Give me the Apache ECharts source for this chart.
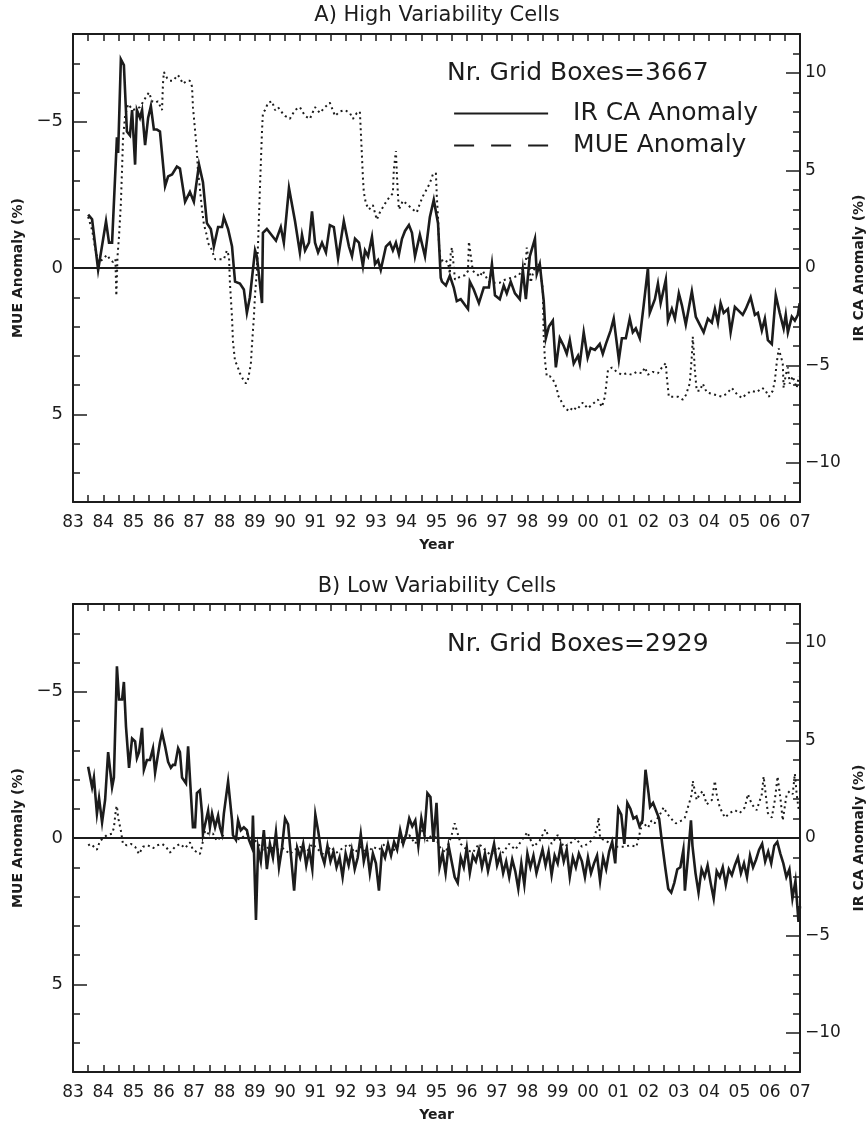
<!DOCTYPE html>
<html><head><meta charset="utf-8">
<script src="https://cdn.jsdelivr.net/npm/echarts@6/dist/echarts.min.js"></script>
<style>html,body{margin:0;padding:0;background:#fff}#c{width:867px;height:1121px}</style>
</head><body><div id="c"></div>
<script>
// x-axis: decimal year; labels shown as two-digit year
const yearTicks = [83,84,85,86,87,88,89,90,91,92,93,94,95,96,97,98,99,0,1,2,3,4,5,6,7];
const mueTicks = [-5, 0, 5];
const irTicks = [-10, -5, 0, 5, 10];

// Panel A: High variability cells — IR CA anomaly (%), right axis
const highIR = [[1983.50,2.74],[1983.63,2.5],[1983.83,-0.1],[1984.09,2.4],[1984.19,1.3],[1984.29,1.3],[1984.45,6.7],[1984.49,5.9],[1984.58,10.7],[1984.68,10.4],[1984.78,7.0],[1984.88,6.8],[1984.95,8.1],[1985.05,5.3],[1985.11,8.1],[1985.21,7.7],[1985.28,8.1],[1985.38,6.3],[1985.48,7.7],[1985.57,8.3],[1985.67,7.1],[1985.77,7.1],[1985.87,7.0],[1986.04,4.2],[1986.14,4.7],[1986.27,4.8],[1986.43,5.2],[1986.53,5.1],[1986.70,3.4],[1986.86,3.9],[1986.99,3.4],[1987.16,5.3],[1987.29,4.4],[1987.42,2.3],[1987.55,2.0],[1987.65,1.1],[1987.79,2.1],[1987.92,2.1],[1987.98,2.6],[1988.12,2.0],[1988.25,1.1],[1988.31,0.0],[1988.35,-0.7],[1988.51,-0.8],[1988.64,-1.1],[1988.74,-2.3],[1988.84,-1.5],[1989.01,0.9],[1989.07,0.6],[1989.24,-1.8],[1989.27,1.8],[1989.40,2.0],[1989.70,1.4],[1989.86,2.1],[1989.96,1.3],[1990.13,4.1],[1990.33,2.4],[1990.39,2.3],[1990.49,0.8],[1990.56,1.7],[1990.66,0.9],[1990.79,1.3],[1990.89,2.9],[1990.99,1.3],[1991.09,0.8],[1991.22,1.3],[1991.35,0.8],[1991.48,2.2],[1991.61,2.1],[1991.75,0.5],[1991.94,2.4],[1992.11,1.1],[1992.21,0.6],[1992.31,1.5],[1992.44,1.3],[1992.57,0.1],[1992.64,0.9],[1992.74,0.6],[1992.87,1.6],[1992.97,0.2],[1993.07,0.4],[1993.16,-0.1],[1993.33,1.1],[1993.46,1.3],[1993.56,0.9],[1993.66,1.3],[1993.76,0.7],[1993.86,1.5],[1993.96,1.9],[1994.09,2.2],[1994.19,1.8],[1994.29,0.6],[1994.45,1.7],[1994.62,0.6],[1994.78,2.6],[1994.91,3.5],[1995.05,2.3],[1995.14,-0.5],[1995.18,-0.7],[1995.31,-0.9],[1995.44,-0.4],[1995.57,-1.0],[1995.67,-1.7],[1995.80,-1.6],[1995.94,-1.9],[1996.04,-2.1],[1996.10,-0.7],[1996.23,-1.1],[1996.40,-1.8],[1996.56,-1.0],[1996.73,-1.0],[1996.83,0.2],[1996.93,-1.4],[1997.09,-1.6],[1997.22,-0.9],[1997.32,-1.3],[1997.45,-0.7],[1997.59,-1.3],[1997.75,-1.6],[1997.85,-0.1],[1997.95,-1.6],[1998.08,0.6],[1998.25,1.5],[1998.31,-0.3],[1998.41,0.2],[1998.54,-1.7],[1998.61,-3.6],[1998.71,-3.0],[1998.84,-2.7],[1998.94,-5.1],[1999.07,-3.6],[1999.20,-4.0],[1999.30,-4.4],[1999.40,-3.7],[1999.53,-4.9],[1999.67,-4.5],[1999.73,-4.9],[1999.86,-3.3],[1999.99,-4.6],[2000.09,-4.1],[2000.23,-4.2],[2000.39,-3.9],[2000.49,-4.4],[2000.59,-3.9],[2000.75,-3.2],[2000.85,-2.6],[2001.02,-4.7],[2001.12,-3.6],[2001.25,-3.6],[2001.38,-2.6],[2001.48,-3.3],[2001.58,-3.1],[2001.71,-3.6],[2001.84,-1.9],[2001.98,0.0],[2002.04,-2.3],[2002.21,-1.6],[2002.31,-0.8],[2002.40,-1.8],[2002.57,-0.6],[2002.64,-2.7],[2002.77,-2.1],[2002.87,-2.6],[2003.00,-1.3],[2003.10,-1.9],[2003.23,-2.9],[2003.43,-1.2],[2003.56,-2.5],[2003.69,-2.9],[2003.82,-3.3],[2003.96,-2.6],[2004.09,-2.8],[2004.19,-2.1],[2004.29,-2.8],[2004.38,-1.8],[2004.48,-2.3],[2004.62,-2.1],[2004.71,-3.3],[2004.85,-2.0],[2004.98,-2.2],[2005.11,-2.4],[2005.21,-2.1],[2005.37,-1.5],[2005.51,-2.4],[2005.61,-2.3],[2005.74,-3.2],[2005.84,-2.6],[2005.94,-3.7],[2006.07,-3.9],[2006.20,-1.4],[2006.33,-2.3],[2006.46,-3.1],[2006.53,-2.4],[2006.60,-3.3],[2006.73,-2.5],[2006.83,-2.7],[2006.93,-2.4],[2006.99,-1.8]];

// Panel A: MUE anomaly (%), left (inverted) axis
const highMUE = [[1983.50,-1.75],[1983.63,-1.3],[1983.73,-0.7],[1983.83,-0.2],[1983.99,-0.3],[1984.12,-0.45],[1984.22,-0.3],[1984.32,-0.2],[1984.40,-0.3],[1984.43,0.95],[1984.47,-0.4],[1984.52,-1.1],[1984.58,-2.2],[1984.62,-3.4],[1984.65,-4.4],[1984.72,-5.2],[1984.82,-5.6],[1984.98,-5.4],[1985.21,-5.5],[1985.44,-5.9],[1985.51,-6.0],[1985.61,-5.7],[1985.71,-5.65],[1985.80,-5.7],[1985.94,-5.4],[1985.97,-6.3],[1986.00,-6.7],[1986.10,-6.5],[1986.20,-6.4],[1986.30,-6.4],[1986.46,-6.6],[1986.53,-6.5],[1986.63,-6.3],[1986.76,-6.4],[1986.86,-6.4],[1986.93,-6.2],[1986.96,-5.5],[1987.03,-4.7],[1987.09,-4.0],[1987.12,-3.4],[1987.19,-2.7],[1987.26,-2.0],[1987.32,-1.5],[1987.42,-1.1],[1987.46,-0.85],[1987.55,-0.7],[1987.69,-0.3],[1987.85,-0.3],[1987.98,-0.3],[1988.08,-0.6],[1988.15,-0.4],[1988.18,0.5],[1988.25,1.7],[1988.28,2.5],[1988.35,3.2],[1988.41,3.3],[1988.51,3.6],[1988.61,3.8],[1988.71,3.95],[1988.78,3.8],[1988.87,3.3],[1988.91,2.6],[1988.97,1.7],[1989.01,0.9],[1989.07,0.1],[1989.11,-0.85],[1989.17,-2.7],[1989.24,-4.7],[1989.27,-5.3],[1989.34,-5.4],[1989.44,-5.65],[1989.57,-5.7],[1989.67,-5.4],[1989.77,-5.5],[1989.83,-5.4],[1990.00,-5.2],[1990.16,-5.1],[1990.33,-5.4],[1990.49,-5.5],[1990.66,-5.2],[1990.82,-5.1],[1990.99,-5.5],[1991.15,-5.3],[1991.32,-5.5],[1991.48,-5.65],[1991.65,-5.2],[1991.81,-5.35],[1991.98,-5.4],[1992.14,-5.3],[1992.24,-5.1],[1992.37,-5.3],[1992.47,-5.35],[1992.50,-4.7],[1992.54,-3.8],[1992.57,-3.1],[1992.60,-2.6],[1992.67,-2.2],[1992.77,-2.0],[1992.90,-2.15],[1993.03,-1.65],[1993.13,-1.9],[1993.30,-2.2],[1993.43,-2.4],[1993.56,-2.55],[1993.59,-3.35],[1993.66,-4.0],[1993.69,-3.25],[1993.73,-2.45],[1993.76,-2.0],[1993.89,-2.3],[1994.06,-2.15],[1994.22,-2.0],[1994.35,-1.9],[1994.45,-2.2],[1994.55,-2.45],[1994.68,-2.7],[1994.78,-2.9],[1994.88,-3.2],[1994.98,-3.25],[1995.01,-2.45],[1995.05,-1.75],[1995.08,-0.85],[1995.14,-0.15],[1995.21,-0.3],[1995.38,-0.2],[1995.44,0.2],[1995.47,-0.5],[1995.51,-0.7],[1995.61,0.4],[1995.77,0.3],[1995.94,0.25],[1996.04,0.1],[1996.07,-0.9],[1996.20,0.1],[1996.33,0.2],[1996.43,0.3],[1996.53,0.1],[1996.66,0.35],[1996.76,0.5],[1996.93,0.5],[1997.09,0.5],[1997.26,0.4],[1997.42,0.35],[1997.59,0.3],[1997.72,0.25],[1997.85,0.0],[1997.95,-0.2],[1997.98,-0.7],[1998.05,-0.2],[1998.11,0.5],[1998.18,0.2],[1998.31,-0.2],[1998.41,-0.05],[1998.51,0.75],[1998.54,2.35],[1998.58,3.15],[1998.64,3.7],[1998.74,3.7],[1998.84,3.8],[1998.97,4.1],[1999.01,4.35],[1999.14,4.6],[1999.24,4.8],[1999.40,4.9],[1999.50,4.75],[1999.63,4.85],[1999.83,4.6],[1999.99,4.8],[2000.16,4.65],[2000.33,4.5],[2000.46,4.75],[2000.56,4.4],[2000.62,3.85],[2000.66,3.5],[2000.79,3.4],[2000.95,3.55],[2001.12,3.65],[2001.28,3.6],[2001.45,3.65],[2001.61,3.55],[2001.78,3.6],[2001.88,3.4],[2001.98,3.65],[2002.14,3.55],[2002.31,3.6],[2002.44,3.4],[2002.57,3.25],[2002.60,3.7],[2002.67,4.4],[2002.80,4.4],[2002.97,4.4],[2003.13,4.5],[2003.23,4.35],[2003.36,3.95],[2003.43,3.0],[2003.46,2.35],[2003.49,2.8],[2003.53,3.5],[2003.59,4.2],[2003.69,4.2],[2003.79,3.95],[2003.92,4.25],[2004.09,4.3],[2004.25,4.35],[2004.42,4.4],[2004.58,4.3],[2004.75,4.1],[2004.91,4.3],[2005.08,4.45],[2005.24,4.3],[2005.41,4.2],[2005.57,4.25],[2005.74,4.1],[2005.84,4.15],[2005.97,4.4],[2006.10,4.2],[2006.17,3.85],[2006.23,3.25],[2006.30,2.75],[2006.36,3.0],[2006.43,3.25],[2006.46,4.1],[2006.53,3.65],[2006.60,3.4],[2006.66,3.95],[2006.76,3.7],[2006.89,4.1],[2006.96,3.7]];

// Panel B: Low variability cells — IR CA anomaly (%)
const lowIR = [[1983.50,3.65],[1983.63,2.6],[1983.69,3.1],[1983.79,1.25],[1983.86,2.05],[1983.96,0.8],[1984.06,1.95],[1984.16,4.4],[1984.29,2.6],[1984.35,3.1],[1984.45,8.8],[1984.52,7.1],[1984.62,7.1],[1984.68,8.0],[1984.75,5.7],[1984.85,3.6],[1984.95,5.1],[1985.05,4.95],[1985.11,4.1],[1985.18,4.4],[1985.28,5.65],[1985.34,3.5],[1985.44,4.0],[1985.54,4.0],[1985.64,4.6],[1985.71,3.35],[1985.77,3.25],[1985.87,4.9],[1985.94,5.4],[1986.04,4.7],[1986.14,3.9],[1986.23,3.6],[1986.30,3.75],[1986.37,3.75],[1986.47,4.6],[1986.53,4.4],[1986.60,3.1],[1986.66,3.1],[1986.73,2.8],[1986.80,4.7],[1986.89,2.3],[1986.96,0.55],[1987.03,0.55],[1987.09,2.3],[1987.19,2.45],[1987.26,1.25],[1987.29,0.2],[1987.39,0.9],[1987.46,1.4],[1987.52,0.55],[1987.59,1.25],[1987.69,0.55],[1987.79,1.15],[1987.85,0.55],[1987.92,0.2],[1987.98,1.25],[1988.12,2.9],[1988.25,0.9],[1988.28,0.15],[1988.38,-0.1],[1988.45,0.9],[1988.54,0.4],[1988.64,0.55],[1988.74,0.4],[1988.81,-0.1],[1988.91,-0.5],[1988.94,1.15],[1989.04,-4.2],[1989.11,-0.5],[1989.2,-1.2],[1989.3,0.4],[1989.4,-1.6],[1989.5,-0.3],[1989.6,-1.0],[1989.7,0.3],[1989.8,-1.5],[1989.9,-0.5],[1990.0,1.0],[1990.1,0.7],[1990.2,-1.0],[1990.3,-2.7],[1990.4,-0.5],[1990.5,-1.0],[1990.6,-0.3],[1990.7,-1.4],[1990.8,-0.6],[1990.9,-1.6],[1991.0,1.2],[1991.1,0.3],[1991.2,-0.8],[1991.3,-1.3],[1991.4,-0.4],[1991.5,-1.2],[1991.6,-0.7],[1991.7,-1.5],[1991.8,-1.0],[1991.9,-2.0],[1992.0,-0.8],[1992.1,-1.4],[1992.2,-0.6],[1992.3,-1.6],[1992.4,-1.0],[1992.5,0.2],[1992.6,-1.2],[1992.7,-0.5],[1992.8,-1.8],[1992.9,-0.8],[1993.0,-1.3],[1993.1,-2.7],[1993.2,-0.6],[1993.3,-1.0],[1993.4,-0.3],[1993.5,-0.9],[1993.6,-0.2],[1993.7,-0.6],[1993.8,0.4],[1993.9,-0.3],[1994.0,0.2],[1994.1,1.0],[1994.2,0.6],[1994.3,0.9],[1994.4,-0.4],[1994.5,1.0],[1994.6,0.2],[1994.7,2.3],[1994.8,2.1],[1994.9,-0.2],[1995.0,1.8],[1995.1,-1.5],[1995.2,-0.8],[1995.3,-1.8],[1995.4,-0.4],[1995.5,-1.2],[1995.6,-2.0],[1995.7,-2.3],[1995.8,-1.0],[1995.9,-1.5],[1996.0,-0.5],[1996.1,-1.8],[1996.2,-0.9],[1996.3,-1.2],[1996.4,-0.6],[1996.5,-1.5],[1996.6,-0.8],[1996.7,-1.7],[1996.8,-1.0],[1996.9,-0.3],[1997.0,-1.4],[1997.1,-0.9],[1997.2,-1.8],[1997.3,-1.2],[1997.4,-2.0],[1997.5,-1.1],[1997.6,-1.7],[1997.7,-2.6],[1997.8,-1.3],[1997.9,-2.4],[1998.0,-0.8],[1998.1,-1.5],[1998.2,-0.9],[1998.3,-1.8],[1998.4,-1.2],[1998.5,-0.6],[1998.6,-1.4],[1998.7,-0.7],[1998.8,-1.9],[1998.9,-0.9],[1999.0,-1.3],[1999.1,-0.4],[1999.2,-1.2],[1999.3,-0.6],[1999.4,-2.0],[1999.5,-1.0],[1999.6,-1.5],[1999.7,-0.8],[1999.8,-1.2],[1999.9,-2.0],[2000.0,-1.0],[2000.1,-1.8],[2000.2,-1.3],[2000.3,-0.9],[2000.4,-2.2],[2000.5,-1.0],[2000.6,-1.6],[2000.7,-0.7],[2000.8,-0.2],[2000.9,-1.3],[2001.0,1.5],[2001.1,1.2],[2001.2,-0.3],[2001.3,1.8],[2001.4,1.5],[2001.5,1.0],[2001.6,1.1],[2001.7,0.6],[2001.8,0.9],[2001.9,3.5],[2002.0,2.3],[2002.05,1.6],[2002.15,1.8],[2002.25,1.4],[2002.35,1.0],[2002.45,-0.3],[2002.55,-1.5],[2002.65,-2.6],[2002.75,-2.8],[2002.85,-2.3],[2002.95,-1.6],[2003.05,-1.5],[2003.15,-0.6],[2003.2,-2.7],[2003.3,-1.0],[2003.4,0.9],[2003.45,-0.4],[2003.55,-1.8],[2003.65,-2.8],[2003.75,-1.6],[2003.85,-2.0],[2003.95,-1.4],[2004.05,-2.3],[2004.15,-3.1],[2004.25,-1.7],[2004.35,-2.0],[2004.45,-1.5],[2004.55,-2.4],[2004.65,-1.6],[2004.75,-1.9],[2004.85,-1.4],[2004.95,-1.0],[2005.05,-1.8],[2005.15,-1.3],[2005.25,-2.0],[2005.35,-0.9],[2005.45,-1.5],[2005.55,-1.1],[2005.65,-0.6],[2005.75,-0.3],[2005.85,-1.2],[2005.95,-0.7],[2006.05,-1.3],[2006.15,-0.4],[2006.25,-0.2],[2006.35,-0.8],[2006.45,-1.3],[2006.55,-2.0],[2006.65,-1.6],[2006.75,-3.1],[2006.85,-2.2],[2006.95,-4.3],[2007.0,-3.5]];

// Panel B: MUE anomaly (%)
const lowMUE = [[1983.50,0.25],[1983.59,0.2],[1983.79,0.4],[1983.89,0.1],[1984.12,-0.1],[1984.29,-0.15],[1984.35,-0.35],[1984.42,-1.0],[1984.45,-1.1],[1984.49,-0.7],[1984.58,-0.25],[1984.65,0.2],[1984.78,0.25],[1984.91,0.2],[1985.05,0.3],[1985.18,0.55],[1985.31,0.3],[1985.47,0.25],[1985.64,0.35],[1985.77,0.25],[1985.94,0.2],[1986.07,0.3],[1986.20,0.5],[1986.37,0.3],[1986.53,0.2],[1986.70,0.35],[1986.86,0.15],[1986.96,0.4],[1987.19,0.55],[1987.26,0.25],[1987.36,-0.25],[1987.46,-0.15],[1987.62,-0.15],[1987.75,0.1],[1987.92,-0.1],[1988.08,0.0],[1988.28,0.0],[1988.51,0.05],[1988.74,-0.15],[1988.94,0.0],[1989.11,0.2],[1989.27,0.4],[1989.50,0.3],[1989.73,0.4],[1989.93,0.35],[1990.16,0.55],[1990.33,0.4],[1990.5,0.3],[1990.7,0.5],[1990.9,0.2],[1991.1,0.4],[1991.3,0.6],[1991.5,0.3],[1991.7,0.5],[1991.9,0.35],[1992.1,0.2],[1992.3,0.5],[1992.5,0.3],[1992.7,0.55],[1992.9,0.3],[1993.1,0.4],[1993.3,0.2],[1993.5,0.5],[1993.7,0.3],[1993.9,0.1],[1994.1,-0.1],[1994.3,0.2],[1994.5,-0.3],[1994.7,0.1],[1994.9,-0.2],[1995.1,0.3],[1995.3,0.5],[1995.5,-0.1],[1995.6,-0.5],[1995.8,0.2],[1996.0,0.4],[1996.2,0.5],[1996.4,0.2],[1996.6,0.4],[1996.8,0.6],[1997.0,0.3],[1997.2,0.5],[1997.4,0.2],[1997.6,0.4],[1997.8,0.1],[1998.0,-0.2],[1998.2,0.3],[1998.4,0.1],[1998.6,-0.3],[1998.8,0.2],[1999.0,-0.1],[1999.2,0.3],[1999.4,0.2],[1999.6,0.0],[1999.8,0.3],[2000.0,0.2],[2000.2,0.0],[2000.3,-0.35],[2000.35,-0.7],[2000.4,0.0],[2000.6,0.1],[2000.9,0.3],[2001.2,0.3],[2001.4,0.25],[2001.6,0.3],[2001.8,-0.55],[2001.98,-0.35],[2002.1,-0.6],[2002.2,-0.5],[2002.4,-0.85],[2002.5,-1.05],[2002.6,-0.85],[2002.8,-0.6],[2002.9,-0.5],[2003.1,-0.6],[2003.2,-0.7],[2003.3,-1.05],[2003.43,-1.5],[2003.46,-1.95],[2003.59,-1.3],[2003.69,-1.5],[2003.79,-1.6],[2003.92,-1.15],[2004.09,-1.3],[2004.19,-1.95],[2004.25,-1.5],[2004.35,-1.05],[2004.52,-0.7],[2004.68,-0.85],[2004.85,-0.95],[2005.01,-0.85],[2005.18,-1.05],[2005.28,-1.5],[2005.41,-1.15],[2005.57,-0.95],[2005.74,-1.5],[2005.80,-2.1],[2005.94,-0.85],[2006.07,-0.7],[2006.17,-1.3],[2006.26,-2.1],[2006.36,-1.3],[2006.43,-0.6],[2006.56,-1.5],[2006.66,-1.6],[2006.76,-1.5],[2006.83,-2.2],[2006.89,-1.5],[2006.96,-0.95]];

const INK = '#1c1c1c';
const FONT = 'DejaVu Sans';
const chart = echarts.init(document.getElementById('c'), null, {renderer: 'canvas'});

const grids = [
  {left: 73, top: 34, width: 727, height: 468, containLabel: false, outerBoundsMode: 'none'},
  {left: 73, top: 604, width: 727, height: 468, containLabel: false, outerBoundsMode: 'none'}
];

function yearLabel(v) {
  const y = Math.round(v) % 100;
  return (y < 10 ? '0' : '') + y;
}
function numLabel(v) {
  return String(v).replace('-', '\u2212');
}

const xAxes = [], yAxes = [];
grids.forEach((g, i) => {
  const tick = {show: true, inside: true, length: 7, lineStyle: {color: INK, width: 1.5}};
  xAxes.push({
    type: 'value', gridIndex: i, position: 'bottom', min: 1983, max: 2007, interval: 1,
    axisLine: {show: true, onZero: false, lineStyle: {color: INK, width: 2}},
    axisTick: tick,
    minorTick: {show: true, splitNumber: 2, length: 7, lineStyle: {color: INK, width: 1.5}},
    splitLine: {show: false},
    axisLabel: {formatter: yearLabel, fontSize: 17, color: INK, margin: 12, fontFamily: FONT},
    name: 'Year', nameLocation: 'middle', nameGap: 36,
    nameTextStyle: {fontSize: 14, color: INK, fontFamily: FONT, fontWeight: 'bold'}
  });
  xAxes.push({
    type: 'value', gridIndex: i, position: 'top', min: 1983, max: 2007, interval: 1,
    axisLine: {show: true, onZero: false, lineStyle: {color: INK, width: 2}},
    axisTick: tick,
    minorTick: {show: true, splitNumber: 2, length: 7, lineStyle: {color: INK, width: 1.5}},
    splitLine: {show: false}, axisLabel: {show: false}
  });
  // left MUE axis (inverted)
  yAxes.push({
    type: 'value', gridIndex: i, position: 'left', min: -8, max: 8, inverse: true,
    axisLine: {show: true, onZero: false, lineStyle: {color: INK, width: 2}},
    axisTick: {show: true, inside: true, length: 14, customValues: mueTicks, lineStyle: {color: INK, width: 1.5}},
    axisLabel: {customValues: mueTicks, formatter: numLabel, fontSize: 18, color: INK, margin: 10, fontFamily: FONT},
    splitLine: {show: false},
    name: 'MUE Anomaly (%)', nameLocation: 'middle', nameGap: 47, nameRotate: 90,
    nameTextStyle: {fontSize: 14, color: INK, fontFamily: FONT, fontWeight: 'bold'}
  });
  yAxes.push({
    type: 'value', gridIndex: i, position: 'left', min: -8, max: 8, interval: 1, inverse: true,
    axisLine: {show: false},
    axisTick: {show: true, inside: true, length: 7, lineStyle: {color: INK, width: 1.5}},
    axisLabel: {show: false}, splitLine: {show: false}
  });
  // right IR CA axis
  yAxes.push({
    type: 'value', gridIndex: i, position: 'right', min: -12, max: 12,
    axisLine: {show: true, onZero: false, lineStyle: {color: INK, width: 2}},
    axisTick: {show: true, inside: true, length: 14, customValues: irTicks, lineStyle: {color: INK, width: 1.5}},
    axisLabel: {customValues: irTicks, formatter: numLabel, fontSize: 17, color: INK, margin: 5, fontFamily: FONT},
    splitLine: {show: false},
    name: 'IR CA Anomaly (%)', nameLocation: 'middle', nameGap: 52, nameRotate: 90,
    nameTextStyle: {fontSize: 14, color: INK, fontFamily: FONT, fontWeight: 'bold'}
  });
  yAxes.push({
    type: 'value', gridIndex: i, position: 'right', min: -12, max: 12, interval: 1,
    axisLine: {show: false},
    axisTick: {show: true, inside: true, length: 7, lineStyle: {color: INK, width: 1.5}},
    axisLabel: {show: false}, splitLine: {show: false}
  });
});

function irSeries(name, data, g) {
  return {
    name, type: 'line', data, xAxisIndex: g * 2, yAxisIndex: g * 4 + 2,
    symbol: 'none', animation: false, z: 3,
    itemStyle: {color: INK},
    lineStyle: {color: INK, width: 2.6, join: 'miter'},
    markLine: {
      silent: true, symbol: 'none', label: {show: false}, animation: false,
      lineStyle: {color: INK, width: 2, type: 'solid'},
      data: [{yAxis: 0}]
    }
  };
}
function mueSeries(name, data, g) {
  return {
    name, type: 'line', data, xAxisIndex: g * 2, yAxisIndex: g * 4,
    symbol: 'none', animation: false, z: 2,
    itemStyle: {color: INK},
    lineStyle: {color: INK, width: 2, type: [2, 3.5]}
  };
}

const option = {
  backgroundColor: '#ffffff',
  animation: false,
  grid: grids,
  xAxis: xAxes,
  yAxis: yAxes,
  legend: {
    orient: 'vertical', left: 453, top: 101, itemWidth: 94, itemHeight: 14, itemGap: 7,
    padding: 0, selectedMode: false,
    itemStyle: {opacity: 0},
    textStyle: {fontSize: 25, color: INK, fontFamily: FONT, padding: [0, 0, 0, 20]},
    data: [
      {name: 'IR CA Anomaly', itemStyle: {opacity: 0}, lineStyle: {type: 'solid', width: 2.2, color: INK}},
      {name: 'MUE Anomaly', itemStyle: {opacity: 0}, lineStyle: {type: [20, 17], width: 2.2, color: INK}}
    ]
  },
  graphic: [
    {type: 'text', x: 437, y: 16, style: {text: 'A) High Variability Cells', fontSize: 21, fill: INK, fontFamily: FONT, textAlign: 'center', textVerticalAlign: 'middle'}},
    {type: 'text', x: 447, y: 73, style: {text: 'Nr. Grid Boxes=3667', fontSize: 25, fill: INK, fontFamily: FONT, textAlign: 'left', textVerticalAlign: 'middle'}},
    {type: 'text', x: 437, y: 587, style: {text: 'B) Low Variability Cells', fontSize: 21, fill: INK, fontFamily: FONT, textAlign: 'center', textVerticalAlign: 'middle'}},
    {type: 'text', x: 447, y: 644, style: {text: 'Nr. Grid Boxes=2929', fontSize: 25, fill: INK, fontFamily: FONT, textAlign: 'left', textVerticalAlign: 'middle'}}
  ],
  series: [
    irSeries('IR CA Anomaly', highIR, 0),
    mueSeries('MUE Anomaly', highMUE, 0),
    irSeries('IR CA Anomaly (B)', lowIR, 1),
    mueSeries('MUE Anomaly (B)', lowMUE, 1)
  ]
};
chart.setOption(option);
</script>
</body></html>
